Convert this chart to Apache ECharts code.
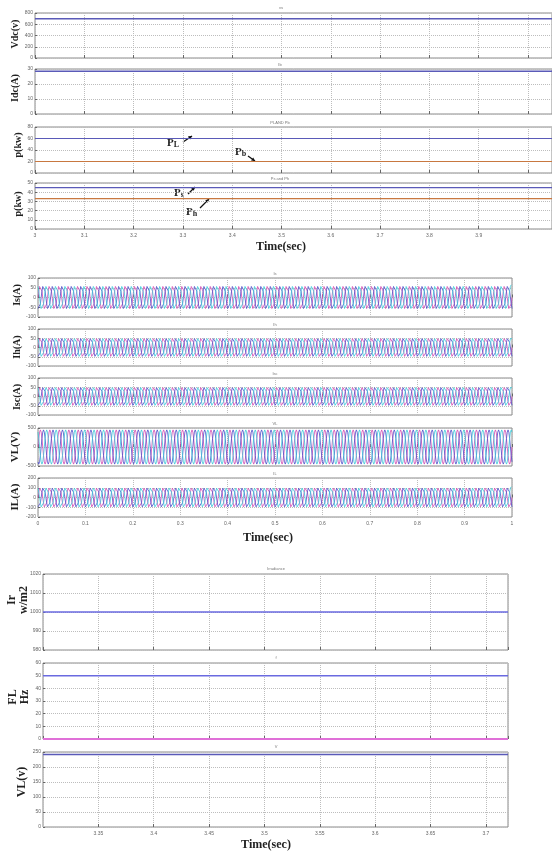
<!DOCTYPE html>
<html><head><meta charset="utf-8">
<script src="https://cdn.jsdelivr.net/npm/echarts@6/dist/echarts.min.js"></script>
<style>html,body{margin:0;padding:0;background:#fff}#c{width:552px;height:863px}</style>
</head><body><div id="c"></div><script>
// ---------- data ----------
// Section 1 (steady-state DC / power quantities, t = 3 .. 4 s)
const sec1Time = [3, 4.05];
const vdcValues = [700, 700];
const idcValues = [28.5, 28.5];
const pLoadValues = [60, 60];
const pBatteryValues = [20, 20];
const pSolarValues = [45, 45];
const pHybridValues = [33, 33];

// Section 2 (three-phase waveforms, t = 0 .. 1 s, 50 Hz)
const waveNames = ['Is(A)', 'Ih(A)', 'Isc(A)', 'VL(V)', 'IL(A)'];
const waveTitles = ['Is', 'Ih', 'Isc', 'VL', 'IL'];
const waveAmplitudes = [65, 55, 55, 450, 110];
const waveYMax = [100, 100, 100, 500, 200];
const waveYStep = [50, 50, 50, 500, 100];
const waveCycles = 50;
const unitCycle = [0, 0.5, 0.87, 1, 0.87, 0.5, 0, -0.5, -0.87, -1, -0.87, -0.5];
const phaseOffsets = [0, 8, 4];
const phaseColors = ['#d048b0', '#4a4ac8', '#38c8d8'];

// Section 3
const sec3Range = [3.3, 3.72];
const sec3Time = [3.3, 3.72];
const irradianceValues = [1000, 1000];
const freqValues = [50, 50];
const freqZeroValues = [0, 0];
const vlRmsValues = [242, 242];

// ---------- build ----------
const chart = echarts.init(document.getElementById('c'));
const tickFont = { fontSize: 5, color: '#666', fontFamily: 'Liberation Sans' };

function grid(left, right, top, height) {
  return { left, right, top, height, show: true, borderColor: '#8a8a8a', borderWidth: 1,
    containLabel: false, outerBoundsMode: 'none' };
}
const grids = [], xAxes = [], yAxes = [], series = [];

function addPanel(g, xCfg, yCfg, showXLabels) {
  const idx = grids.length;
  grids.push(g);
  const xl = Object.assign({ margin: 4, showMinLabel: true, showMaxLabel: true }, tickFont, xCfg.axisLabel || {}, { show: showXLabels });
  xAxes.push(Object.assign({
    type: 'value', gridIndex: idx,
    axisLine: { show: false },
    axisTick: { show: true, inside: true, length: 3, lineStyle: { color: '#666' } },
    splitLine: { show: true, lineStyle: { type: 'dotted', color: '#bdbdbd' } }
  }, xCfg, { axisLabel: xl }));
  yAxes.push(Object.assign({
    type: 'value', gridIndex: idx,
    axisLine: { show: false },
    axisTick: { show: true, inside: true, length: 2, lineStyle: { color: '#666' } },
    splitLine: { show: true, lineStyle: { type: 'dotted', color: '#bdbdbd' } },
    axisLabel: Object.assign({ margin: 2, formatter: v => String(v) }, tickFont)
  }, yCfg));
  return idx;
}
function line(idx, xs, ys, color, width) {
  series.push({
    type: 'line', xAxisIndex: idx, yAxisIndex: idx, showSymbol: false, animation: false,
    data: xs.map((x, i) => [x, ys[i]]), lineStyle: { color, width: width || 1.2 }
  });
}

// Section 1
const x1 = { min: 3, max: 4.0487, interval: 0.1,
  axisLabel: { formatter: v => v > 3.95 ? '' : String(+v.toFixed(1)), showMaxLabel: false } };
let i;
i = addPanel(grid(35, 0, 13, 45), x1, { min: 0, max: 800, interval: 200 }, false);
line(i, sec1Time, vdcValues, '#5a5ab8', 1.5);
i = addPanel(grid(35, 0, 69, 45), x1, { min: 0, max: 30, interval: 10 }, false);
line(i, sec1Time, idcValues, '#5a5ab8', 1.5);
i = addPanel(grid(35, 0, 127, 46), x1, { min: 0, max: 80, interval: 20 }, false);
line(i, sec1Time, pLoadValues, '#5a5ab8', 1.2);
line(i, sec1Time, pBatteryValues, '#c87840', 1.2);
i = addPanel(grid(35, 0, 183, 46), x1, { min: 0, max: 50, interval: 10 }, true);
line(i, sec1Time, pSolarValues, '#5a5ab8', 1.2);
line(i, sec1Time, pHybridValues, '#c87840', 1.2);

// Section 2
const tops2 = [278, 329, 378, 428, 478];
const heights2 = [39, 37, 37, 38, 39];
const samplesPerCycle = unitCycle.length;
const totalSamples = waveCycles * samplesPerCycle;
const waveTime = [];
for (let k = 0; k <= totalSamples; k++) waveTime.push(k / totalSamples);
waveNames.forEach((nm, p) => {
  const idx = addPanel(grid(38, 40, tops2[p], heights2[p]),
    { min: 0, max: 1, interval: 0.1 },
    { min: -waveYMax[p], max: waveYMax[p], interval: waveYStep[p] }, p === 4);
  phaseOffsets.forEach((off, ph) => {
    const ys = waveTime.map((t, k) => waveAmplitudes[p] * unitCycle[(k + off) % samplesPerCycle]);
    line(idx, waveTime, ys, phaseColors[ph], 0.8);
  });
});

// Section 3
const x3 = { min: sec3Range[0], max: sec3Range[1], interval: 0.05,
  axisLabel: { showMinLabel: false, showMaxLabel: false } };
i = addPanel(grid(43, 44, 574, 76), x3, { min: 980, max: 1020, interval: 10 }, false);
line(i, sec3Time, irradianceValues, '#6a6ae0', 1.5);
i = addPanel(grid(43, 44, 663, 76), x3, { min: 0, max: 60, interval: 10 }, false);
line(i, sec3Time, freqValues, '#6a6ae0', 1.5);
line(i, sec3Time, freqZeroValues, '#e070d8', 2);
i = addPanel(grid(43, 44, 752, 75), x3, { min: 0, max: 250, interval: 50 }, true);
line(i, sec3Time, vlRmsValues, '#5a5ab8', 1.5);

// annotations / titles
const tiny = (txt, x, y) => ({ type: 'text', x: x, y: y, style: { text: txt, fontSize: 4, fill: '#777', align: 'center', fontFamily: 'Liberation Sans' } });
const bold = (txt, cx, y) => ({ type: 'text', x: cx, y: y, style: { text: txt, font: 'bold 12px "Liberation Serif"', fill: '#222', align: 'center', verticalAlign: 'middle' } });
const yname = (txt, cx, cy, size) => ({ type: 'text', x: cx, y: cy, rotation: Math.PI / 2,
  style: { text: txt, font: 'bold ' + size + 'px "Liberation Serif"', fill: '#222', align: 'center', verticalAlign: 'middle', lineHeight: size } });
const lab = (main, sub, x, y) => ({ type: 'text', x, y, style: { text: '{m|' + main + '}{s|' + sub + '}', verticalAlign: 'middle', rich: { m: { font: 'bold 11px "Liberation Serif"', fill: '#222' }, s: { font: 'bold 8px "Liberation Serif"', fill: '#222', padding: [4, 0, 0, 0] } } } });
const arrow = (x1, y1, x2, y2) => {
  const a = Math.atan2(y2 - y1, x2 - x1), L = 4;
  return [
    { type: 'line', shape: { x1, y1, x2, y2 }, style: { stroke: '#111', lineWidth: 1.3 } },
    { type: 'polygon', shape: { points: [[x2, y2], [x2 - L * Math.cos(a - 0.5), y2 - L * Math.sin(a - 0.5)], [x2 - L * Math.cos(a + 0.5), y2 - L * Math.sin(a + 0.5)]] }, style: { fill: '#111' } }
  ];
};
const graphics = [
  tiny('vs', 281, 6), tiny('Ib', 280, 63), tiny('PLAND Pb', 280, 121), tiny('Ps and Ph', 280, 177),
  bold('Time(sec)', 281, 247),
  tiny('Is', 275, 272), tiny('Ih', 275, 323), tiny('Isc', 275, 372), tiny('VL', 275, 422), tiny('IL', 275, 472),
  bold('Time(sec)', 268, 538),
  tiny('Irradiance', 276, 567), tiny('f', 276, 656), tiny('V', 276, 745),
  bold('Time(sec)', 266, 845),
  yname('Vdc(v)', 15, 34, 10), yname('Idc(A)', 15, 88, 10), yname('p(kw)', 18, 145, 10), yname('p(kw)', 18, 204, 10),
  yname('Is(A)', 17, 295, 10), yname('Ih(A)', 17, 347, 10), yname('Isc(A)', 17, 397, 10),
  yname('VL(V)', 15, 447, 11), yname('IL(A)', 15, 497, 11),
  yname('Ir\nw/m2', 18, 600, 12), yname('FL\nHz', 19, 697, 12), yname('VL(v)', 22, 782, 12),
  lab('P', 'L', 167, 143), ...arrow(183, 142, 192, 136),
  lab('P', 'b', 235, 152), ...arrow(248, 156, 255, 161),
  lab('P', 's', 174, 193), ...arrow(188, 194, 195, 187),
  lab('P', 'h', 186, 212), ...arrow(200, 208, 209, 199)
];

chart.setOption({
  animation: false,
  backgroundColor: '#fff',
  grid: grids, xAxis: xAxes, yAxis: yAxes, series,
  graphic: graphics
});
</script></body></html>
